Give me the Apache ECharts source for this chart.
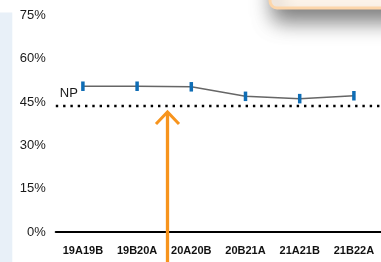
<!DOCTYPE html>
<html>
<head>
<meta charset="utf-8">
<script src="https://cdn.jsdelivr.net/npm/echarts@6/dist/echarts.min.js"></script>
<style>
html,body{margin:0;padding:0;background:#fff;}
#c{width:381px;height:262px;}
</style>
</head>
<body>
<div id="c"></div>
<script>
var categories = ['19A19B', '19B20A', '20A20B', '20B21A', '21A21B', '21B22A'];
var values = [50.5, 50.5, 50.3, 47.0, 46.2, 47.2];
var npValue = 43.8;
var yTicks = [0, 15, 30, 45, 60, 75];

var chart = echarts.init(document.getElementById('c'));
var font = '"Liberation Sans", Arial, sans-serif';
chart.setOption({
  animation: false,
  backgroundColor: '#ffffff',
  grid: { left: 55.8, right: -4.5, top: 15.5, bottom: 30, containLabel: false },
  xAxis: {
    type: 'category',
    data: categories,
    offset: 9,
    axisLine: { show: true, lineStyle: { color: '#000', width: 2.2 } },
    axisTick: { show: false },
    splitLine: { show: false },
    axisLabel: { color: '#111', fontSize: 11, fontWeight: 'bold', fontFamily: font, margin: 4, interval: 0 }
  },
  yAxis: {
    type: 'value',
    min: yTicks[0],
    max: yTicks[yTicks.length - 1],
    interval: 15,
    axisLine: { show: false },
    axisTick: { show: false },
    splitLine: { show: false },
    axisLabel: { color: '#1a1a1a', fontSize: 13, fontFamily: font, margin: 10, formatter: '{value}%' }
  },
  series: [{
    type: 'line',
    data: values,
    symbol: 'rect',
    symbolSize: [3.5, 9.5],
    lineStyle: { color: '#666666', width: 1.5 },
    itemStyle: { color: '#0f6db5' },
    z: 3,
    markLine: {
      silent: true,
      symbol: 'none',
      lineStyle: { color: '#000', width: 2.4, type: [2.4, 4.9], cap: 'butt' },
      label: { show: true, formatter: 'NP', position: 'insideStartTop', color: '#1a1a1a', fontSize: 13, fontFamily: font, distance: [4, 6] },
      data: [{ yAxis: npValue }]
    }
  }],
  graphic: [
    { type: 'rect', shape: { x: 0, y: 12.5, width: 12.3, height: 260 }, style: { fill: '#e8f0f8' }, z: 0 },
    { type: 'rect', shape: { x: 270, y: -40, width: 140, height: 48, r: 7 },
      style: { fill: '#fff6ec', stroke: '#fdd6aa', lineWidth: 3, shadowBlur: 20, shadowColor: 'rgba(0,0,0,0.5)', shadowOffsetX: 4, shadowOffsetY: 12 }, z: 10 },
    { type: 'polyline', shape: { points: [[167.5, 262], [167.5, 112]] }, style: { stroke: '#f7941d', lineWidth: 3.3, fill: null }, z: 20 },
    { type: 'polyline', shape: { points: [[156, 124], [167.5, 112], [179, 124]] }, style: { stroke: '#f7941d', lineWidth: 3, fill: null, lineJoin: 'miter' }, z: 20 }
  ]
});
</script>
</body>
</html>
